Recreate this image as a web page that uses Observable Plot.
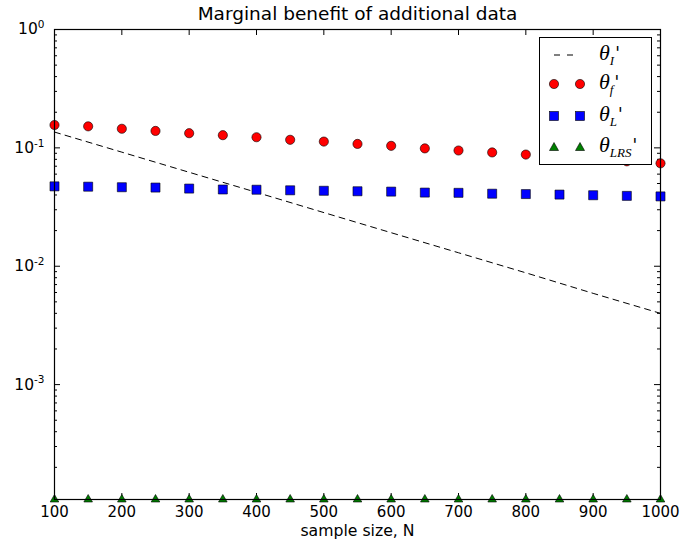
<!DOCTYPE html>
<html><head><meta charset="utf-8">
<script src="https://cdn.jsdelivr.net/npm/d3@7"></script>
<script src="https://cdn.jsdelivr.net/npm/@observablehq/plot@0.6"></script>
<style>
body{margin:0;background:#fff;font-family:"DejaVu Sans",sans-serif;}
#wrap{position:relative;width:683px;height:543px;}
#wrap > svg{font-family:"DejaVu Sans",sans-serif;}
#legend{position:absolute;left:539px;top:37px;width:111px;height:126px;border:1px solid #000;background:#fff;}
.row{position:absolute;left:0;width:111px;height:30px;}
.row svg{position:absolute;left:0;top:0;}
.lab{position:absolute;left:59px;top:1px;font-family:"Liberation Serif",serif;font-style:italic;font-size:22px;line-height:24px;color:#000;white-space:nowrap;}
.lab sub{font-size:13px;vertical-align:-5px;}
.lab .pr{font-style:italic;font-family:"DejaVu Sans",sans-serif;font-size:17px;vertical-align:1px;margin-left:1px;}
</style></head><body><div id="wrap"></div>
<script>
// ---- data ----
const sampleSizes = [100,150,200,250,300,350,400,450,500,550,600,650,700,750,800,850,900,950,1000];
const thetaF   = [0.156,0.152,0.145,0.139,0.133,0.128,0.123,0.117,0.113,0.108,0.104,0.099,0.095,0.0915,0.0878,0.084,0.081,0.077,0.074];
const thetaL   = [0.0473,0.047,0.0465,0.0462,0.0453,0.0445,0.0443,0.0438,0.0434,0.0430,0.0427,0.0419,0.0417,0.0410,0.0407,0.0403,0.0398,0.0393,0.0389];
const thetaLRS = [1.07e-4,1.07e-4,1.07e-4,1.07e-4,1.07e-4,1.07e-4,1.07e-4,1.07e-4,1.07e-4,1.07e-4,1.07e-4,1.07e-4,1.07e-4,1.07e-4,1.07e-4,1.07e-4,1.07e-4,1.07e-4,1.07e-4];
const thetaISizes = [100,200,300,400,500,600,700,800,900,1000];
const thetaI   = [0.136,0.092,0.0622,0.0421,0.0284,0.0192,0.0130,0.0088,0.0059,0.0040];
const xTicks = [100,200,300,400,500,600,700,800,900,1000];
const yMajorTicks = [1,0.1,0.01,0.001];
const yTickExponents = ["0","-1","-2","-3"];
const titleText = "Marginal benefit of additional data";
const xLabel = "sample size, N";

const yDomain = [1.07e-4, 1];
const yMinorTicks = [];
for (const p of [1e-4,1e-3,1e-2,1e-1]) for (let k=2;k<=9;k++){const v=k*p; if(v>=yDomain[0]&&v<=1) yMinorTicks.push(v);}

const ptsF = sampleSizes.map((x,i)=>({x,y:thetaF[i]}));
const ptsL = sampleSizes.map((x,i)=>({x,y:thetaL[i]}));
const ptsR = sampleSizes.map((x,i)=>({x,y:thetaLRS[i]}));
const ptsI = thetaISizes.map((x,i)=>({x,y:thetaI[i]}));
const expOf = d => yTickExponents[yMajorTicks.findIndex(t => Math.abs(Math.log10(t) - Math.log10(d)) < 1e-6)];

// frame geometry (for inward tick lengths via rule insets)
const W = 683, H = 543, mL = 54, mR = 23, mT = 29, mB = 44;
const fw = W - mL - mR, fh = H - mT - mB;
const tr = {stroke:"#000", strokeWidth:1};

const chart = Plot.plot({
  width:W, height:H,
  marginLeft:mL, marginRight:mR, marginTop:mT, marginBottom:mB,
  x:{domain:[100,1000]},
  y:{type:"log", domain:yDomain},
  marks:[
    // inward ticks on all four sides
    Plot.ruleX(xTicks,{x:d=>d, insetTop:fh-6, ...tr}),
    Plot.ruleX(xTicks,{x:d=>d, insetBottom:fh-6, ...tr}),
    Plot.ruleY(yMajorTicks,{y:d=>d, insetRight:fw-6, ...tr}),
    Plot.ruleY(yMajorTicks,{y:d=>d, insetLeft:fw-6, ...tr}),
    Plot.ruleY(yMinorTicks,{y:d=>d, insetRight:fw-3, ...tr}),
    Plot.ruleY(yMinorTicks,{y:d=>d, insetLeft:fw-3, ...tr}),
    Plot.line(ptsI,{x:"x",y:"y",stroke:"#000",strokeWidth:1,strokeDasharray:"6,5"}),
    Plot.dot(ptsF,{x:"x",y:"y",r:4.6,fill:"#ff0000",stroke:"#000",strokeWidth:0.6}),
    Plot.dot(ptsL,{x:"x",y:"y",symbol:"square",r:5.1,fill:"#0000ff",stroke:"#000",strokeWidth:0.6}),
    Plot.dot(ptsR,{x:"x",y:"y",symbol:"triangle",r:3.2,fill:"#008000",stroke:"#000",strokeWidth:0.6}),
    Plot.frame({stroke:"#000",strokeWidth:1.2}),
    Plot.axisX({ticks:xTicks,anchor:"bottom",tickSize:0,tickPadding:7,fontSize:15,label:null,tickFormat:d=>String(d)}),
    Plot.axisY({ticks:yMajorTicks,anchor:"left",tickSize:0,tickPadding:10,fontSize:15.5,label:null,tickFormat:d=>"10^"+expOf(d)}),
    Plot.text([titleText],{frameAnchor:"top",dy:-15,fontSize:18.5,lineAnchor:"middle"}),
    Plot.text([xLabel],{frameAnchor:"bottom",dy:31,fontSize:15.7,lineAnchor:"middle"})
  ]
});
document.getElementById("wrap").appendChild(chart);

// superscript exponents on y tick labels
d3.select(chart).selectAll("text").each(function(){
  const t = this.textContent;
  if (t && t.startsWith("10^")) {
    const exp = t.slice(3);
    const s = d3.select(this);
    s.text("10");
    s.append("tspan").attr("dy","-0.6em").attr("font-size","10.5px").text(exp);
  }
});

// legend
const legend = document.createElement("div");
legend.id = "legend";
const rows = [
  {top:2, kind:"line", sub:"I"},
  {top:31, kind:"circle", sub:"f"},
  {top:63, kind:"square", sub:"L"},
  {top:94, kind:"tri", sub:"LRS"}
];
for (const r of rows) {
  const row = document.createElement("div");
  row.className = "row"; row.style.top = r.top + "px";
  let sample = "";
  if (r.kind==="line") sample = '<line x1="14" x2="39" y1="15" y2="15" stroke="#000" stroke-width="1" stroke-dasharray="6,7"/>';
  if (r.kind==="circle") sample = '<circle cx="14" cy="15" r="4.6" fill="#ff0000" stroke="#000" stroke-width="0.6"/><circle cx="40" cy="15" r="4.6" fill="#ff0000" stroke="#000" stroke-width="0.6"/>';
  if (r.kind==="square") sample = '<rect x="9.5" y="10.5" width="9" height="9" fill="#0000ff" stroke="#000" stroke-width="0.6"/><rect x="35.5" y="10.5" width="9" height="9" fill="#0000ff" stroke="#000" stroke-width="0.6"/>';
  if (r.kind==="tri") sample = '<path d="M14,10.5L18.5,18.5L9.5,18.5Z" fill="#008000" stroke="#000" stroke-width="0.6"/><path d="M40,10.5L44.5,18.5L35.5,18.5Z" fill="#008000" stroke="#000" stroke-width="0.6"/>';
  row.innerHTML = '<svg width="60" height="30">' + sample + '</svg><span class="lab">θ<sub>' + r.sub + '</sub><span class="pr">\'</span></span>';
  legend.appendChild(row);
}
document.getElementById("wrap").appendChild(legend);
</script>
</body></html>
